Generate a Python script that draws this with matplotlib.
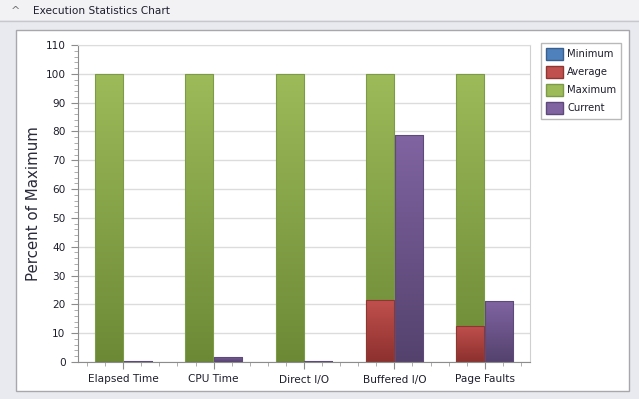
import numpy as np
import matplotlib
matplotlib.use("Agg")
import matplotlib.pyplot as plt
from matplotlib.patches import Rectangle, Patch
from matplotlib.ticker import MultipleLocator
from matplotlib.colors import LinearSegmentedColormap

# data
categories = ["Elapsed Time", "CPU Time", "Direct I/O", "Buffered I/O", "Page Faults"]
minimum = [0, 0, 0, 0, 0]
average = [0, 0, 0, 21.5, 12.6]
maximum = [100, 100, 100, 100, 100]
current = [0.45, 1.85, 0.4, 78.8, 21.1]

# (top colour, bottom colour, edge colour)
colors = {
    "Minimum": ("#4f81bd", "#385d8a", "#3a5f8c"),
    "Average": ("#c0504d", "#8c302e", "#8e3633"),
    "Maximum": ("#9dbb59", "#6c8936", "#7c9a47"),
    "Current": ("#8064a2", "#54426d", "#5e4a7a"),
}

W, H = 639, 399
fig = plt.figure(figsize=(W / 100, H / 100), dpi=100)
fig.patch.set_facecolor("#e9eaef")

# header strip + white panel
fig.patches.append(Rectangle((0, 1 - 20 / H), 1, 20 / H, transform=fig.transFigure,
                             facecolor="#f2f2f4", edgecolor="none", zorder=-2))
fig.lines.append(plt.Line2D([0, 1], [1 - 20.5 / H] * 2, transform=fig.transFigure,
                            color="#c8c8cc", lw=1, zorder=-1))
fig.patches.append(Rectangle((16 / W, 1 - 391 / H), 613 / W, 361 / H, transform=fig.transFigure,
                             facecolor="white", edgecolor="#a8a8ac", lw=1, zorder=-2))
fig.text(11 / W, 1 - 11 / H, "^", fontsize=8, color="#707070", va="center", ha="left")
fig.text(33 / W, 1 - 11 / H, "Execution Statistics Chart", fontsize=7.6,
         color="#1e1e2e", va="center", ha="left")

ax = fig.add_axes([78 / W, 1 - 362 / H, 452 / W, 317 / H])
ax.set_zorder(1)
ax.set_facecolor("white")

x = np.arange(len(categories))
bw = 0.31


def grad_bars(xpos, vals, name):
    top, bot, edge = colors[name]
    cmap = LinearSegmentedColormap.from_list(name, [bot, top])
    bars = ax.bar(xpos, vals, width=bw, align="edge", facecolor="none",
                  edgecolor=edge, lw=0.8, zorder=3)
    grad = np.linspace(0, 1, 256).reshape(-1, 1)
    for b in bars:
        h = b.get_height()
        if h <= 0:
            continue
        x0 = b.get_x()
        im = ax.imshow(grad, cmap=cmap, origin="lower", aspect="auto",
                       extent=(x0, x0 + b.get_width(), 0, h), zorder=2.5)
        im.set_clip_path(b)
    return bars


grad_bars(x - bw - 0.005, maximum, "Maximum")
grad_bars(x - bw - 0.005, average, "Average")
grad_bars(x - bw - 0.005, minimum, "Minimum")
grad_bars(x + 0.005, current, "Current")

ax.set_xlim(-0.5, len(categories) - 0.5)
ax.set_ylim(0, 110)
ax.set_xticks(x)
ax.set_xticklabels(categories)
ax.xaxis.set_minor_locator(MultipleLocator(0.2))
ax.yaxis.set_major_locator(MultipleLocator(10))
ax.yaxis.set_minor_locator(MultipleLocator(2))
ax.grid(axis="y", which="major", color="#dcdcdc", lw=1, zorder=0)
ax.set_axisbelow(True)

for s in ["left", "bottom"]:
    ax.spines[s].set_color("#8c8c8c")
ax.spines["right"].set_color("#d0d0d0")
ax.spines["top"].set_color("#dcdcdc")
ax.tick_params(which="major", length=5, color="#8c8c8c", labelsize=7.6,
               labelcolor="#1e1e2e", pad=4)
ax.tick_params(which="minor", length=3, color="#a0a0a0")
ax.set_ylabel("Percent of Maximum", fontsize=10.8, color="#2a2a3a", labelpad=3)

handles = [Patch(facecolor=colors[n][0], edgecolor=colors[n][2], label=n)
           for n in ["Minimum", "Average", "Maximum", "Current"]]
leg = fig.legend(handles=handles, loc="upper left", bbox_to_anchor=(541 / W, 1 - 43 / H),
                 borderaxespad=0, fontsize=7.2, frameon=True, fancybox=False, borderpad=0.5,
                 handlelength=1.7, handleheight=1.4, labelspacing=0.65, handletextpad=0.4)
leg.get_frame().set_edgecolor("#a8a8a8")
leg.get_frame().set_linewidth(1)
for t in leg.get_texts():
    t.set_color("#1e1e2e")

fig.savefig("out.png", dpi=100, facecolor=fig.get_facecolor())
